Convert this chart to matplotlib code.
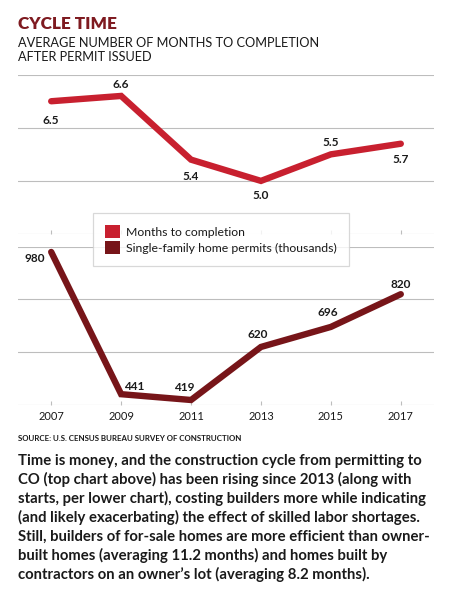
import matplotlib
matplotlib.use("Agg")
import matplotlib.pyplot as plt
from matplotlib.patches import Patch

years = [2007, 2009, 2011, 2013, 2015, 2017]
months = [6.5, 6.6, 5.4, 5.0, 5.5, 5.7]
permits = [980, 441, 419, 620, 696, 820]

# label offsets (pixels) for the value labels
month_offsets = [(0, -19), (0, 11), (0, -17), (0, -15), (0, 12), (0, -16)]
permit_offsets = [(-16, -7), (13, 8), (-7, 12), (-3, 12), (-3, 14), (0, 10)]

title = "CYCLE TIME"
subtitle = ["AVERAGE NUMBER OF MONTHS TO COMPLETION", "AFTER PERMIT ISSUED"]
legend_labels = ["Months to completion", "Single-family home permits (thousands)"]
source = "SOURCE: U.S. CENSUS BUREAU SURVEY OF CONSTRUCTION"
body = [
    "Time is money, and the construction cycle from permitting to",
    "CO (top chart above) has been rising since 2013 (along with",
    "starts, per lower chart), costing builders more while indicating",
    "(and likely exacerbating) the effect of skilled labor shortages.",
    "Still, builders of for-sale homes are more efficient than owner-",
    "built homes (averaging 11.2 months) and homes built by",
    "contractors on an owner\u2019s lot (averaging 8.2 months).",
]

RED = "#c8202f"
DARK = "#771519"
TITLE_C = "#7e1a20"
GRID = "#bdbdbd"
TEXT = "#1a1a1a"

plt.rcParams["font.family"] = ["Lato", "DejaVu Sans"]

W, H = 474, 592
fig = plt.figure(figsize=(W / 100, H / 100), dpi=100)


def box(x0, y0, x1, y1):
    return [x0 / W, 1 - y1 / H, (x1 - x0) / W, (y1 - y0) / H]


ax_top = fig.add_axes(box(18, 74.7, 434, 234))
ax_bot = fig.add_axes(box(18, 246.7, 434, 405))

for ax in (ax_top, ax_bot):
    for s in ax.spines.values():
        s.set_visible(False)
    ax.set_xlim(2006.05, 2017.95)
    ax.set_xticks(years)
    ax.grid(axis="y", color=GRID, lw=0.8)
    ax.set_axisbelow(True)
    ax.tick_params(axis="y", length=0, labelleft=False)
    ax.tick_params(axis="x", direction="in", length=3, color=GRID,
                   width=0.8, labelsize=8, labelcolor=TEXT, pad=4)

ax_top.set_ylim(4, 7)
ax_top.set_yticks([4, 5, 6, 7])
ax_top.tick_params(axis="x", labelbottom=False)

ax_bot.set_ylim(400, 1000)
ax_bot.set_yticks([400, 600, 800, 1000])

ax_top.plot(years, months, color=RED, lw=4.6, solid_capstyle="round",
            solid_joinstyle="miter", clip_on=False, zorder=3)
ax_bot.plot(years, permits, color=DARK, lw=4.6, solid_capstyle="round",
            solid_joinstyle="miter", clip_on=False, zorder=3)

for x, v, off in zip(years, months, month_offsets):
    ax_top.annotate(f"{v:.1f}", (x, v), xytext=off, textcoords="offset pixels",
                    ha="center", va="center", fontsize=8.5, fontweight="bold",
                    color=TEXT)
for x, v, off in zip(years, permits, permit_offsets):
    ax_bot.annotate(f"{v}", (x, v), xytext=off, textcoords="offset pixels",
                    ha="center", va="center", fontsize=8.5, fontweight="bold",
                    color=TEXT)

handles = [Patch(facecolor=RED, edgecolor="none"),
           Patch(facecolor=DARK, edgecolor="none")]
leg = fig.legend(handles, legend_labels, loc="upper left",
                 bbox_to_anchor=(93 / W, 1 - 213 / H), borderaxespad=0,
                 fontsize=8.8, frameon=True, fancybox=False,
                 handlelength=1.2, handleheight=1.2, handletextpad=0.5,
                 labelspacing=0.3, borderpad=1.0)
leg.get_frame().set_edgecolor("#cfcfcf")
leg.get_frame().set_linewidth(0.9)
for t in leg.get_texts():
    t.set_color(TEXT)

fig.text(18 / W, 1 - 24 / H, title, fontsize=12.3, fontweight="heavy",
         color=TITLE_C, va="center", ha="left")
for i, line in enumerate(subtitle):
    fig.text(18 / W, 1 - (43.3 + 13.5 * i) / H, line, fontsize=9.2,
             color=TEXT, va="center", ha="left")

fig.text(18 / W, 1 - 438.5 / H, source, fontsize=5.7, fontweight="bold",
         color=TEXT, va="center", ha="left")
for i, line in enumerate(body):
    fig.text(18 / W, 1 - (465 + 19 * i) / H, line, fontsize=10.75,
             fontweight="bold", color=TEXT, va="baseline", ha="left")

fig.savefig("out.png", dpi=100, facecolor="white")
